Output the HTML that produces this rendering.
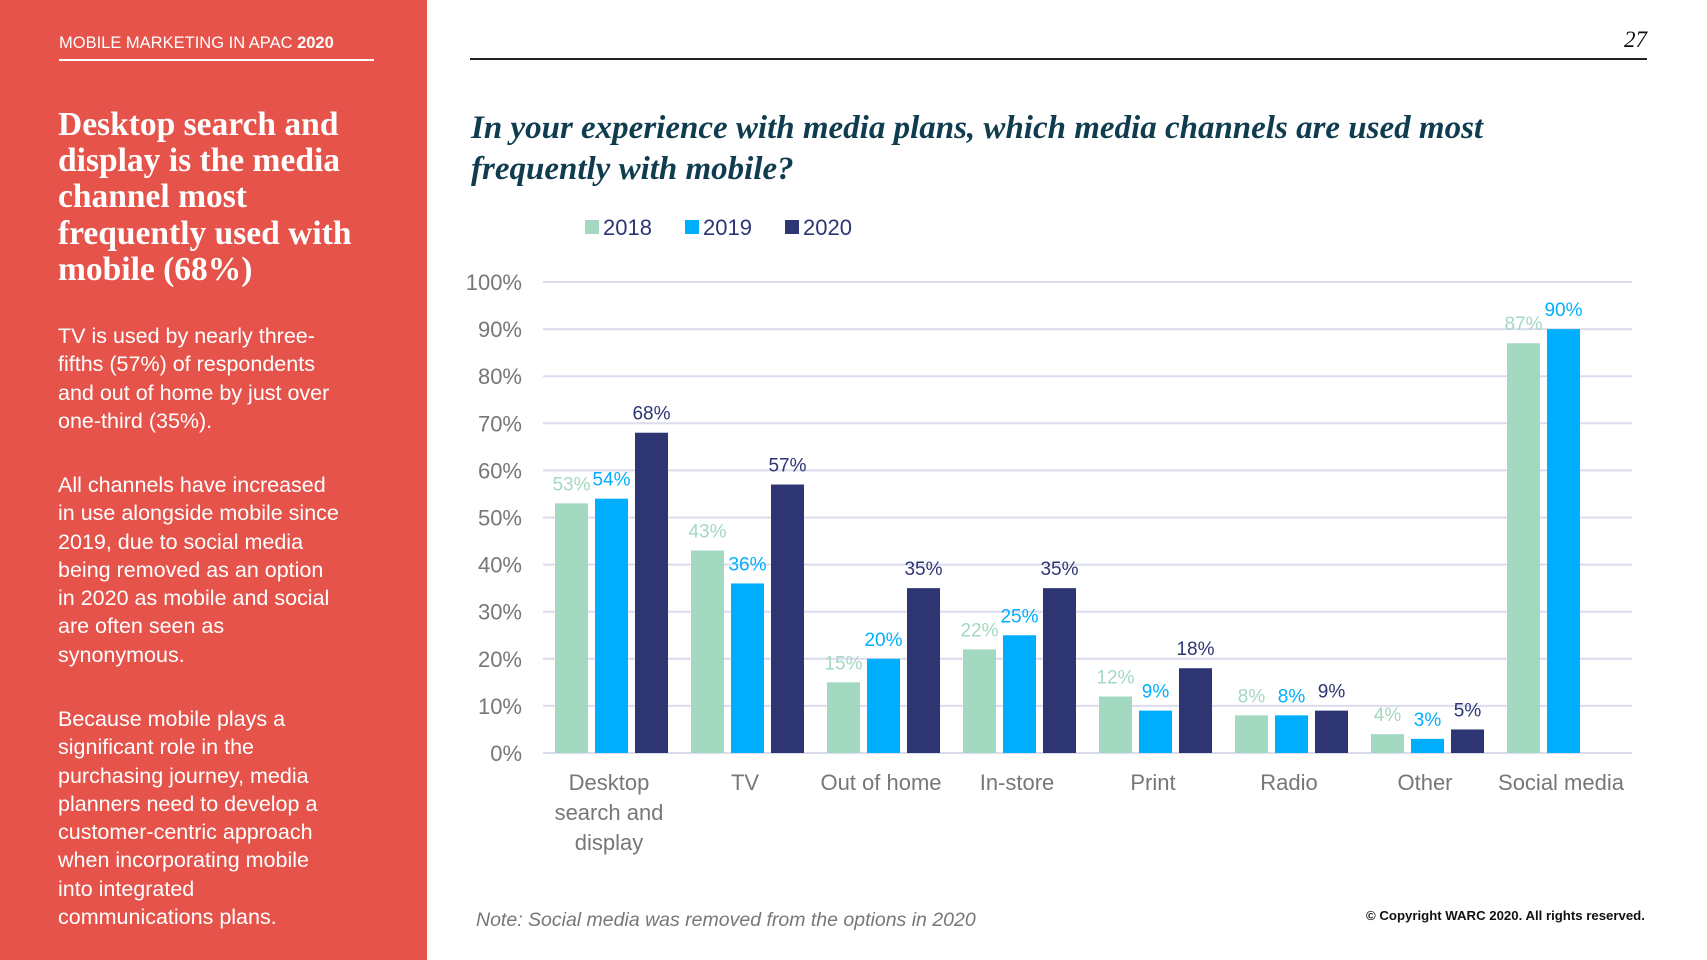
<!DOCTYPE html>
<html><head><meta charset="utf-8"><style>
body{margin:0;width:1707px;height:960px;position:relative;background:#fff;font-family:"Liberation Sans",sans-serif;overflow:hidden}
.abs{position:absolute}
#panel{left:0;top:0;width:427px;height:960px;background:#e5534b}
.body{color:#fff;font-size:21.5px;line-height:28.3px;left:58px;width:360px;white-space:nowrap}
</style></head><body>
<div id="panel" class="abs"></div>
<div class="abs" style="left:59px;top:34px;color:#fff;font-size:16.5px">MOBILE MARKETING IN APAC <b>2020</b></div>
<div class="abs" style="left:59px;top:59px;width:315px;height:1.5px;background:#fff"></div>
<div class="abs" style="left:58px;top:107px;width:370px;color:#fff;font-family:'Liberation Serif',serif;font-weight:bold;font-size:33.5px;line-height:36.2px;white-space:nowrap">Desktop search and<br>display is the media<br>channel most<br>frequently used with<br>mobile (68%)</div>
<div class="abs body" style="top:322px">TV is used by nearly three-<br>fifths (57%) of respondents<br>and out of home by just over<br>one-third (35%).</div>
<div class="abs body" style="top:471px">All channels have increased<br>in use alongside mobile since<br>2019, due to social media<br>being removed as an option<br>in 2020 as mobile and social<br>are often seen as<br>synonymous.</div>
<div class="abs body" style="top:705px">Because mobile plays a<br>significant role in the<br>purchasing journey, media<br>planners need to develop a<br>customer-centric approach<br>when incorporating mobile<br>into integrated<br>communications plans.</div>
<div class="abs" style="left:470px;top:58px;width:1177px;height:1.5px;background:#222"></div>
<div class="abs" style="left:1624px;top:27px;font-family:'Liberation Serif',serif;font-style:italic;font-size:23px;color:#111">27</div>
<div class="abs" style="left:471px;top:108px;width:1150px;font-family:'Liberation Serif',serif;font-style:italic;font-weight:bold;font-size:33px;line-height:41px;color:#0f3d4f">In your experience with media plans, which media channels are used most frequently with mobile?</div>
<svg class="abs" style="left:0;top:0" width="1707" height="960" id="chart"></svg>
<div class="abs" style="left:476px;top:909px;font-style:italic;font-size:19.5px;color:#777">Note: Social media was removed from the options in 2020</div>
<div class="abs" style="left:1366px;top:908px;font-weight:bold;font-size:13.2px;color:#111">© Copyright WARC 2020. All rights reserved.</div>
<script>
const categories=[["Desktop","search and","display"],["TV"],["Out of home"],["In-store"],["Print"],["Radio"],["Other"],["Social media"]];
const seriesNames=["2018","2019","2020"];
const v2018=[53,43,15,22,12,8,4,87];
const v2019=[54,36,20,25,9,8,3,90];
const v2020=[68,57,35,35,18,9,5,null];
const yTicks=[0,10,20,30,40,50,60,70,80,90,100];
const colors=["#a3d9c0","#00aeff","#2d3573"];
const svg=document.getElementById('chart');
const NS="http://www.w3.org/2000/svg";
const y=v=>753-v*4.71;
const gx=i=>555+i*136;
function mk(t,a){const e=document.createElementNS(NS,t);for(const k in a)e.setAttribute(k,a[k]);svg.appendChild(e);return e;}
yTicks.forEach(t=>{
 const l=mk('line',{x1:543,x2:1632,y1:y(t),y2:y(t),stroke:'#dcdcee','stroke-width':2});
 
 
 const tx=mk('text',{x:522,y:y(t)+8,'text-anchor':'end','font-size':22,fill:'#777','font-family':'Liberation Sans'});
 tx.textContent=t+'%';
 
 
});
const series=[v2018,v2019,v2020];
series.forEach((vals,s)=>{
 vals.forEach((v,i)=>{
  if(v==null)return;
  const x=gx(i)+s*40;
  const r=mk('rect',{x:x,y:y(v),width:33,height:753-y(v),fill:colors[s]});
  
  
  const t=mk('text',{x:x+16.5,y:y(v)-13,'text-anchor':'middle','font-size':19,fill:colors[s],'font-family':'Liberation Sans'});
  t.textContent=v+'%';
  
  
 });
});
categories.forEach((lines,i)=>{
 lines.forEach((ln,j)=>{
  const t=mk('text',{x:gx(i)+54,y:790+j*30,'text-anchor':'middle','font-size':22,fill:'#777','font-family':'Liberation Sans'});
  t.textContent=ln;
  
  
 });
});
const lx=[585,685,785];
seriesNames.forEach((n,s)=>{
 const r=mk('rect',{x:lx[s],y:220,width:14,height:14,fill:colors[s]});
 
 
 const t=mk('text',{x:lx[s]+18,y:235,'font-size':22,fill:'#2d3573','font-family':'Liberation Sans'});
 t.textContent=n;
 
 
});
</script>
</body></html>
